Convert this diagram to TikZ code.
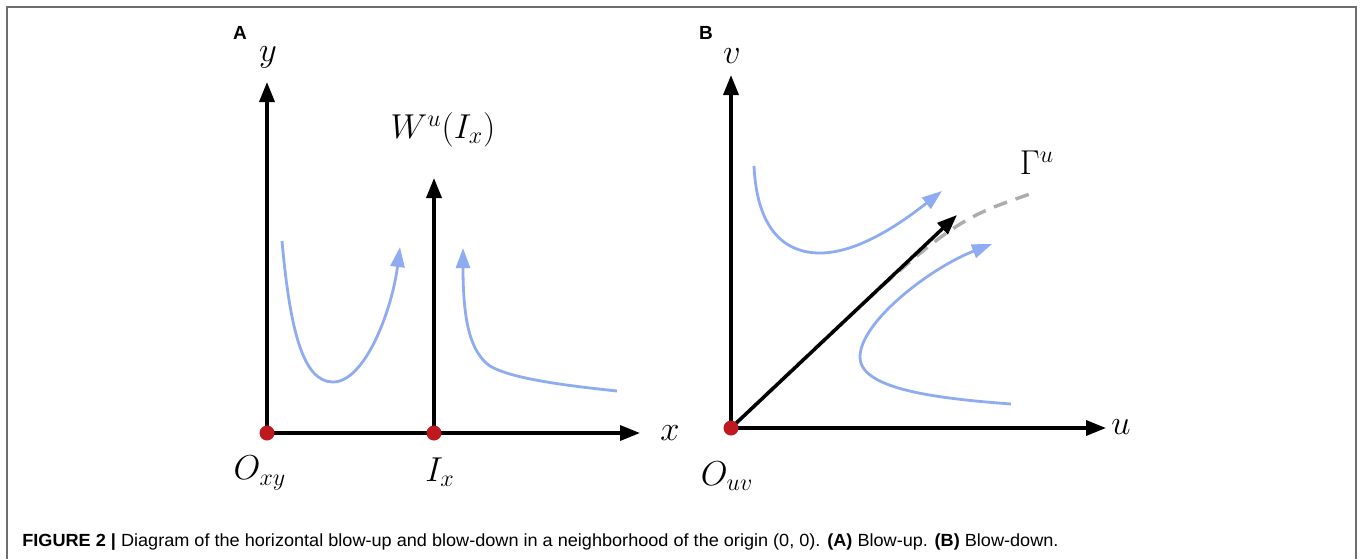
\documentclass[tikz,border=0pt]{standalone}
\usepackage{fontspec}
\usepackage{graphicx}
\newfontfamily\capfont{Liberation Sans}
\usetikzlibrary{arrows.meta}
\definecolor{curveblue}{RGB}{143,172,242}
\definecolor{dotred}{RGB}{190,25,30}
\definecolor{dashgray}{RGB}{172,172,172}
\definecolor{framegray}{RGB}{110,110,110}
\begin{document}
\begin{tikzpicture}[x=0.5pt,y=-0.5pt,
  axis/.style={line width=1.75pt,-{Triangle[length=10pt,width=7.5pt]}},
  flow/.style={curveblue,line width=1.4pt,-{Triangle[length=10pt,width=7pt]}},
  dot/.style={circle,fill=dotred,inner sep=0pt,minimum size=7.5pt},
  lab/.style={font=\LARGE,inner sep=0pt},
  panel/.style={font=\capfont\bfseries\fontsize{9.5}{11}\selectfont,inner sep=0pt}]
\useasboundingbox (0,0) rectangle (1360,559);
\fill[white] (0,0) rectangle (1360,559);
\draw[framegray,line width=1pt] (7,559) -- (7,7) -- (1356,7) -- (1356,559);

% ---------- Panel A ----------
\node[panel] (pA) at (240,33) {A};
\coordinate (O) at (267,433);
\coordinate (I) at (434,433);
\coordinate (ytip) at (267,82);
\coordinate (xtip) at (640,433);
\coordinate (wtip) at (434,178);
\draw[axis] (O) -- (ytip);
\draw[axis] (O) -- (xtip);
\draw[axis] (I) -- (wtip);

\coordinate (a1s) at (282,241);
\coordinate (a1m) at (333,382);
\coordinate (a1e) at (400,247);
\draw[flow] (a1s) .. controls (290,330) and (303,382) .. (a1m)
             .. controls (365,382) and (392,310) .. (a1e);
\coordinate (a2s) at (617,391);
\coordinate (a2c) at (490,366);
\coordinate (a2e) at (463,248);
\draw[flow] (a2s) .. controls (560,385) and (510,378) .. (a2c)
             .. controls (470,352) and (463,320) .. (a2e);

\node[dot] (Odot) at (O) {};
\node[dot] (Idot) at (I) {};

\node[lab] (ylab) at (268,57) {$y$};
\node[lab] (xlab) at (670,433) {$x$};
\node[lab] (wlab) at (443,130) {$W^u(I_x)$};
\node[lab] (olab) at (260,473) {$O_{xy}$};
\node[lab] (ilab) at (440,472) {$I_x$};

% ---------- Panel B ----------
\node[panel] (pB) at (706,33) {B};
\coordinate (P) at (731,428);
\coordinate (vtip) at (731,75);
\coordinate (utip) at (1106,428);
\coordinate (dtip) at (957,215);
\coordinate (gend) at (1033,193);
\draw[dashgray,line width=1.7pt,dash pattern=on 7pt off 4.5pt] (P) .. controls (948,222) and (948,222) .. (gend);
\draw[axis] (P) -- (vtip);
\draw[axis] (P) -- (utip);
\draw[axis] (P) -- (dtip);

\coordinate (b1s) at (754,166);
\coordinate (b1m) at (820,253);
\coordinate (b1e) at (942,191);
\draw[flow] (b1s) .. controls (757,230) and (785,253) .. (b1m)
             .. controls (860,253) and (905,220) .. (b1e);
\coordinate (b2s) at (1011,404);
\coordinate (b2m) at (860,357);
\coordinate (b2e) at (992,244);
\draw[flow] (b2s) .. controls (930,398) and (860,388) .. (b2m)
             .. controls (860,322) and (930,268) .. (b2e);

\node[dot] (Pdot) at (P) {};

\node[lab] (vlab) at (732,56) {$v$};
\node[lab] (ulab) at (1121,427) {$u$};
\node[lab] (ouvlab) at (727,476) {$O_{uv}$};
\node[lab] (glab) at (1037,163) {$\Gamma^u$};

% ---------- Caption ----------
\node[anchor=base west,inner sep=0pt,font=\capfont\fontsize{8.8}{10}\selectfont] (cap) at (22,546)
 {\resizebox{518pt}{\height}{\textbf{FIGURE 2 |} Diagram of the horizontal blow-up and blow-down in a neighborhood of the origin (0, 0). \textbf{(A)} Blow-up. \textbf{(B)} Blow-down.}};
\end{tikzpicture}
\end{document}
